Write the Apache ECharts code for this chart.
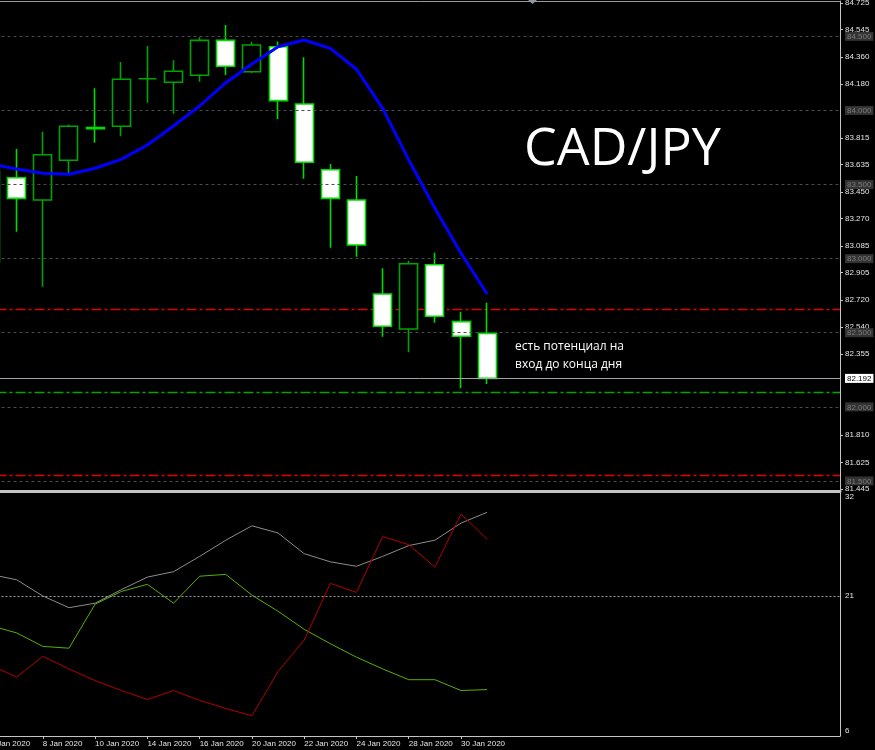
<!DOCTYPE html>
<html><head><meta charset="utf-8">
<script src="https://cdn.jsdelivr.net/npm/echarts@6/dist/echarts.min.js"></script>
<style>html,body{margin:0;padding:0;background:#000;}#c{width:875px;height:750px;}</style>
</head><body><div id="c"></div>
<script>
// ---- data ----
const dates = ['6 Jan 2020','7 Jan 2020','8 Jan 2020','9 Jan 2020','10 Jan 2020','13 Jan 2020','14 Jan 2020','15 Jan 2020','16 Jan 2020','17 Jan 2020','20 Jan 2020','21 Jan 2020','22 Jan 2020','23 Jan 2020','24 Jan 2020','27 Jan 2020','28 Jan 2020','29 Jan 2020','30 Jan 2020','31 Jan 2020'];
const futureDates = ['3 Feb 2020','4 Feb 2020','5 Feb 2020','6 Feb 2020','7 Feb 2020','10 Feb 2020','11 Feb 2020','12 Feb 2020','13 Feb 2020','14 Feb 2020','17 Feb 2020','18 Feb 2020','19 Feb 2020'];
const openP  = [82.977,83.546,83.396,83.664,83.884,83.893,84.214,84.190,84.237,84.473,84.261,84.430,84.043,83.600,83.396,82.761,82.525,82.959,82.575,82.496];
const closeP = [83.591,83.407,83.701,83.893,83.876,84.210,84.214,84.264,84.473,84.298,84.442,84.066,83.650,83.407,83.092,82.544,82.966,82.611,82.476,82.192];
const lowP   = [82.930,83.182,82.811,83.571,83.782,83.826,84.052,83.978,84.194,84.239,84.253,83.942,83.539,83.074,83.013,82.473,82.368,82.568,82.125,82.154];
const highP  = [83.650,83.740,83.857,83.906,84.149,84.327,84.435,84.338,84.494,84.577,84.464,84.466,84.359,83.639,83.558,82.935,82.986,83.040,82.642,82.703];
const maValues = [83.640,83.605,83.576,83.569,83.610,83.670,83.767,83.895,84.030,84.187,84.313,84.430,84.475,84.419,84.278,84.014,83.666,83.340,83.036,82.761];
const adx     = [23.4,22.8,21.0,19.7,20.2,21.7,23.1,23.7,25.4,27.2,28.8,28.0,25.7,24.8,24.3,25.4,26.6,27.2,29.1,30.3];
const plusDi  = [17.7,16.9,15.4,15.2,20.1,21.5,22.3,20.2,23.2,23.4,21.1,19.3,17.3,15.7,14.2,12.9,11.7,11.7,10.5,10.6];
const minusDi = [13.3,12.0,14.3,12.9,11.6,10.5,9.5,10.5,9.4,8.5,7.7,12.6,16.1,22.4,21.4,27.6,26.7,24.2,30.1,27.3];
const priceTicks = [84.725,84.545,84.360,84.180,83.815,83.635,83.450,83.270,83.085,82.905,82.720,82.540,82.355,81.810,81.625,81.445];
const roundLevels = [84.5,84.0,83.5,83.0,82.5,82.0,81.5];
const bidPrice = 82.192;
const redLevels = [82.664,81.537];
const greenLevels = [82.097];
const indTicks = [32,21,6];
const indLevel = 21;
const titleText = 'CAD/JPY';
const noteText = 'есть потенциал на\nвход до конца дня';

// ---- chart ----
const allCats = dates.concat(futureDates);
const candleData = dates.map((d,i)=>[openP[i],closeP[i],lowP[i],highP[i]]);
const font = "'Liberation Sans',Arial,sans-serif";
const near = (a,b)=>Math.abs(a-b)<1e-6;
const dashDot = [10,3,3,3];
const pxPerUnit = 148.2;

const levelLines = roundLevels.map(v=>({yAxis:v,lineStyle:{color:'#4a4a4a',type:[3,3],width:1}}))
  .concat([{yAxis:bidPrice,lineStyle:{color:'#a0a4ac',type:'solid',width:1}}]);
const srLines = redLevels.map(v=>({yAxis:v,lineStyle:{color:'#e00000',type:dashDot,width:1.3}}))
  .concat(greenLevels.map(v=>({yAxis:v,lineStyle:{color:'#00a800',type:dashDot,width:1.3}})));

const chart = echarts.init(document.getElementById('c'));
chart.setOption({
  backgroundColor:'#000',
  animation:false,
  grid:[
    {left:-22.5,right:35,top:1,height:490,containLabel:false,outerBoundsMode:'none'},
    {left:-22.5,right:35,top:492,height:244,containLabel:false,outerBoundsMode:'none'}
  ],
  xAxis:[
    {type:'category',gridIndex:0,data:allCats,boundaryGap:true,
     axisLine:{show:true,lineStyle:{color:'#c4c4c4',width:3}},axisTick:{show:false},axisLabel:{show:false},splitLine:{show:false}},
    {type:'category',gridIndex:1,data:allCats,boundaryGap:true,
     axisLine:{show:true,lineStyle:{color:'#c4c4c4',width:1}},
     axisTick:{show:true,alignWithLabel:true,length:3,interval:(i)=>i%2===0&&i<dates.length,lineStyle:{color:'#c4c4c4'}},
     axisLabel:{interval:(i)=>i%2===0&&i<dates.length,align:'left',color:'#e4e4e4',fontSize:8,fontFamily:font,margin:4,
       formatter:(v,i)=>i<dates.length?v:''},splitLine:{show:false}},
    {type:'category',gridIndex:0,position:'top',data:allCats,boundaryGap:true,
     axisLine:{show:true,lineStyle:{color:'#9a9a9a',width:1}},axisTick:{show:false},axisLabel:{show:false},splitLine:{show:false}}
  ],
  yAxis:[
    {type:'value',gridIndex:0,position:'right',min:84.725-488/pxPerUnit,max:84.725+2/pxPerUnit,
     axisLine:{show:true,lineStyle:{color:'#c4c4c4',width:1}},
     axisTick:{show:true,length:3,customValues:priceTicks,lineStyle:{color:'#c4c4c4'}},
     splitLine:{show:false},
     axisLabel:{customValues:priceTicks.concat(roundLevels,[bidPrice]),margin:5,fontSize:8,fontFamily:font,color:'#e4e4e4',
       formatter:(v)=>{
         const s=v.toFixed(3);
         if(near(v,bidPrice)) return '{cur|'+s+'}';
         if(roundLevels.some(r=>near(r,v))) return '{lvl|'+s+'}';
         return '{n|'+s+'}';
       },
       rich:{
         n:{color:'#e4e4e4',fontSize:8,fontFamily:font},
         lvl:{color:'#7c7c7c',backgroundColor:'#333333',fontSize:8,fontFamily:font,padding:[1,2,0,2]},
         cur:{color:'#000000',backgroundColor:'#ffffff',fontSize:8,fontFamily:font,padding:[1,2,0,2]}
       }}},
    {type:'value',gridIndex:1,position:'right',min:32-239/9,max:32+5/9,
     axisLine:{show:true,lineStyle:{color:'#c4c4c4',width:1}},
     axisTick:{show:false,customValues:indTicks},
     splitLine:{show:false},
     axisLabel:{customValues:indTicks,margin:5,fontSize:8,fontFamily:font,color:'#e4e4e4',formatter:(v)=>String(Math.round(v))}}
  ],
  series:[
    {type:'candlestick',xAxisIndex:0,yAxisIndex:0,data:candleData,barWidth:18.5,z:2,
     itemStyle:{color:'#000000',color0:'#ffffff',borderColor:'#00a400',borderColor0:'#00dc00',borderWidth:1.6},
     markLine:{silent:true,symbol:['none','none'],label:{show:false},data:srLines,z:1}},
    {type:'line',xAxisIndex:0,yAxisIndex:0,data:maValues,symbol:'none',z:4,
     lineStyle:{color:'#0000ff',width:3},
     markLine:{silent:true,symbol:['none','none'],label:{show:false},data:levelLines,z:3}},
    {type:'line',xAxisIndex:1,yAxisIndex:1,data:adx,symbol:'none',lineStyle:{color:'#8c8c8c',width:1},
     markLine:{silent:true,symbol:['none','none'],label:{show:false},data:[{yAxis:indLevel,lineStyle:{color:'#9a9a9a',type:[2,2],width:1}}]}},
    {type:'line',xAxisIndex:1,yAxisIndex:1,data:plusDi,symbol:'none',lineStyle:{color:'#58b000',width:1}},
    {type:'line',xAxisIndex:1,yAxisIndex:1,data:minusDi,symbol:'none',lineStyle:{color:'#b40000',width:1}}
  ],
  graphic:[
    {type:'text',left:524,top:124,style:{text:titleText,fill:'#ffffff',font:"52px 'Open Sans'"}},
    {type:'text',left:515,top:338,style:{text:noteText,fill:'#ffffff',font:"12px 'Open Sans'",lineHeight:17.5}},
    {type:'polygon',shape:{points:[[528,0],[537,0],[532.5,4]]},style:{fill:'#8a98a8'}}
  ]
});
</script></body></html>
